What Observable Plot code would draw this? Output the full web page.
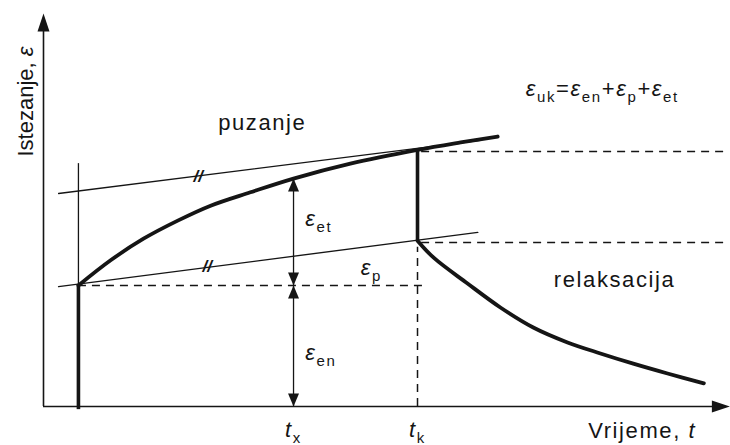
<!DOCTYPE html>
<html><head><meta charset="utf-8">
<script src="https://cdn.jsdelivr.net/npm/d3@7"></script>
<script src="https://cdn.jsdelivr.net/npm/@observablehq/plot@0.6"></script>
<style>html,body{margin:0;padding:0;background:#fff;}</style>
</head><body><div id="chart"></div>
<script>
// key instants (time units) and strain levels (strain units)
const t0 = 5.1, tx = 36.5, tk = 54.6;
const epsEn = 30.8;   // instantaneous elastic strain
const epsK = 65.3;    // strain at unloading time tk
const epsRel = 42.2;  // strain after elastic recovery at tk

// creep curve (puzanje)
const creepT = [5.1, 9.8, 14.6, 19.6, 24.4, 30.2, 36.5, 44.8, 54.6, 60.9, 66.3];
const creepE = [30.8, 37.2, 42.7, 47.3, 51.1, 54.5, 58.0, 61.8, 65.3, 67.2, 68.7];
// relaxation curve (relaksacija)
const relaxT = [54.6, 57.0, 61.9, 66.7, 71.5, 76.5, 81.3, 86.1, 91.1, 96.4];
const relaxE = [42.2, 37.8, 31.3, 25.2, 20.1, 16.3, 13.5, 10.9, 8.4, 5.9];
// two parallel thin lines
const upperT = [2.2, 63.8], upperE = [54.2, 67.7];
const lowerT = [2.2, 63.4], lowerE = [30.5, 44.3];
// dashed reference levels to the right of tk
const rightLevels = [64.9, 41.7];

// labels
const startLabels = [
  {x: 25.5, y: 72.1, text: "puzanje"},
  {x: 74.5, y: 32.3, text: "relaksacija"},
  {x: 70.4, y: 80.9, text: "ε_uk=ε_en+ε_p+ε_et"},
  {x: 38.2, y: 47.8, text: "ε_et"},
  {x: 46.3, y: 35.2, text: "ε_p"},
  {x: 38.2, y: 13.6, text: "ε_en"}
];
const tickLabels = [
  {x: tx, y: -6.0, text: "$t_x"},
  {x: tk, y: -6.0, text: "$t_k"}
];
const xLabel = {x: 95.3, y: -6.3, text: "Vrijeme, $t"};
const yLabel = {x: -2.6, y: 77.6, text: "Istezanje, ε"};
const hashes = [{x: 22.6, y: 58.5}, {x: 23.9, y: 35.7}];

const ink = "#151515";
const creep = creepT.map((t, i) => ({t, e: creepE[i]}));
const relax = relaxT.map((t, i) => ({t, e: relaxE[i]}));
const upper = upperT.map((t, i) => ({t, e: upperE[i]}));
const lower = lowerT.map((t, i) => ({t, e: lowerE[i]}));

const head = (len, half) => ({draw(ctx) { ctx.moveTo(0, 0); ctx.lineTo(-half, len); ctx.lineTo(half, len); ctx.closePath(); }});
const arrowHeads = [
  {x: tx, y: 58.0, rot: 0}, {x: tx, y: epsEn, rot: 180},
  {x: tx, y: epsEn, rot: 0}, {x: tx, y: 0, rot: 180}
];
const axisHeads = [{x: 0, y: 100, rot: 0}, {x: 100.2, y: 0, rot: 90}];
const dash = "8,6";
const txt = {x: "x", y: "y", text: "text", fontSize: 22, fill: ink};

const chart = Plot.plot({
  width: 730, height: 445,
  marginLeft: 43, marginRight: 2, marginTop: 13, marginBottom: 39,
  x: {domain: [0, 100], axis: null},
  y: {domain: [0, 100], axis: null},
  style: {fontFamily: "'Liberation Sans', Arial, sans-serif", background: "#fff", color: ink},
  marks: [
    // axes
    Plot.ruleX([0], {y1: 0, y2: 96, stroke: ink, strokeWidth: 1.6}),
    Plot.ruleY([0], {x1: 0, x2: 99, stroke: ink, strokeWidth: 1.6}),
    Plot.dot(axisHeads, {x: "x", y: "y", rotate: "rot", symbol: head(18, 6), r: 5, fill: ink, stroke: "none"}),
    // thin parallel lines
    Plot.line(upper, {x: "t", y: "e", stroke: ink, strokeWidth: 1.35}),
    Plot.line(lower, {x: "t", y: "e", stroke: ink, strokeWidth: 1.35}),
    Plot.text(hashes, {x: "x", y: "y", text: () => "//", fontSize: 17, fontWeight: "bold", fontStyle: "italic", fill: ink}),
    // dashed lines
    Plot.ruleY([epsEn], {x1: t0, x2: 55.8, stroke: ink, strokeWidth: 1.5, strokeDasharray: dash}),
    Plot.ruleX([tk], {y1: 0, y2: 40.5, stroke: ink, strokeWidth: 1.5, strokeDasharray: dash}),
    Plot.ruleY(rightLevels, {x1: tk + 0.6, x2: 99.3, stroke: ink, strokeWidth: 1.5, strokeDasharray: dash}),
    // verticals
    Plot.ruleX([t0], {y1: epsEn, y2: 61.8, stroke: ink, strokeWidth: 1.3}),
    Plot.ruleX([t0], {y1: -0.8, y2: epsEn, stroke: ink, strokeWidth: 3.6}),
    Plot.ruleX([tk], {y1: epsRel, y2: epsK, stroke: ink, strokeWidth: 3.6}),
    // strain arrows at tx
    Plot.ruleX([tx], {y1: 0, y2: 58.0, stroke: ink, strokeWidth: 1.3}),
    Plot.dot(arrowHeads, {x: "x", y: "y", rotate: "rot", symbol: head(13, 5.5), r: 5, fill: ink, stroke: "none"}),
    // curves
    Plot.line(creep, {x: "t", y: "e", curve: "catmull-rom", stroke: ink, strokeWidth: 3.8, strokeLinecap: "round"}),
    Plot.line(relax, {x: "t", y: "e", curve: "catmull-rom", stroke: ink, strokeWidth: 3.8, strokeLinecap: "round"}),
    // labels
    Plot.text(startLabels, {...txt, textAnchor: "start", className: "wide"}),
    Plot.text(tickLabels, {...txt, textAnchor: "middle", className: "wide"}),
    Plot.text([xLabel], {...txt, textAnchor: "end", className: "wide"}),
    Plot.text([yLabel], {...txt, rotate: -90})
  ]
});
document.getElementById("chart").appendChild(chart);
d3.select(chart).selectAll(".wide").attr("letter-spacing", 1.6);

// rich text: "_xx" subscript runs, "ε" italic, "$t" italic t
d3.select(chart).selectAll("text").each(function() {
  const s = this.textContent;
  if (!/[_$ε]/.test(s)) return;
  const parts = [];
  let i = 0;
  while (i < s.length) {
    const c = s[i];
    if (c === "_") {
      let j = i + 1;
      while (j < s.length && /[a-z]/.test(s[j])) j++;
      parts.push({text: s.slice(i + 1, j), sub: true});
      i = j;
    } else if (c === "$") {
      parts.push({text: s[i + 1], italic: true});
      i += 2;
    } else if (c === "ε") {
      parts.push({text: c, italic: true});
      i++;
    } else {
      let j = i;
      while (j < s.length && !/[_$ε]/.test(s[j])) j++;
      parts.push({text: s.slice(i, j)});
      i = j;
    }
  }
  const el = d3.select(this);
  el.text(null);
  let shifted = false;
  for (const p of parts) {
    const ts = el.append("tspan").text(p.text);
    if (p.sub) {
      ts.attr("font-size", 15);
      if (!shifted) { ts.attr("dy", 6); shifted = true; }
    } else {
      if (shifted) { ts.attr("dy", -6); shifted = false; }
      if (p.italic) ts.attr("font-style", "italic");
    }
  }
});
</script>
</body></html>
